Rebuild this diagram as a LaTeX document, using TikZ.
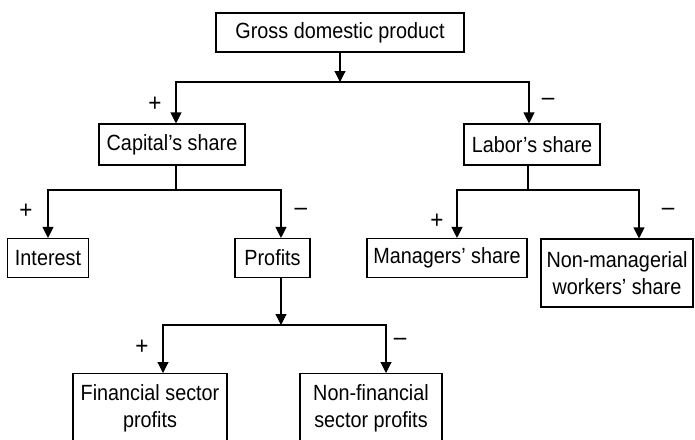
\documentclass[tikz,border=0pt]{standalone}
\usepackage{fontspec}
\setmainfont{Liberation Sans}[FakeStretch=0.9]
\usetikzlibrary{arrows.meta}
\usetikzlibrary{positioning}

\begin{document}
\begin{tikzpicture}[
  x=1pt, y=-1pt,
  line width=1.1pt,
  font=\fontsize{22}{27}\selectfont
]
\tikzset{
    sharebox/.style = {draw=black, rectangle, align=center, inner sep=0pt, minimum height=39pt},
    flow/.style = {-{Triangle[length=11pt,width=11pt]}},
    sign/.style = {draw=none, inner sep=0pt, font=\fontsize{25}{25}\selectfont}
}
\useasboundingbox (0,0) rectangle (695,439);

% boxes
\node[sharebox, minimum width=248pt] (gdp) at (340,32.5) {Gross domestic product};
\node[sharebox, minimum width=146pt, minimum height=41pt] (cap) at (172,144.5) {Capital’s share};
\node[sharebox, minimum width=136pt, minimum height=41pt] (lab) at (532,144.5) {Labor’s share};
\node[sharebox, minimum width=81pt] (int) at (48,258) {Interest};
\node[sharebox, minimum width=75pt] (prof) at (272.5,258) {Profits};
\node[sharebox, minimum width=160pt] (mgr) at (447,258) {Managers’ share};
\node[sharebox, minimum width=152pt, minimum height=68pt] (wrk) at (617,273) {Non-managerial\\workers’ share};
\node[sharebox, minimum width=154pt, minimum height=70pt, anchor=north] (fin) at (150,373) {Financial sector\\profits};
\node[sharebox, minimum width=142pt, minimum height=70pt, anchor=north] (nonfin) at (371,373) {Non-financial\\sector profits};

% split points
\coordinate (gdpbar) at (340,82);
\coordinate (capbar) at (176,190);
\coordinate (labbar) at (528,190);
\coordinate (profbar) at (281,325);

% connectors
\draw[flow] (gdp) -- (gdpbar);
\draw[flow] (gdpbar) -| ([xshift=4pt]cap.north);
\draw[flow] (gdpbar) -| ([xshift=-3pt]lab.north);
\draw ([xshift=4pt]cap.south) -- (capbar);
\draw[flow] (capbar) -| (int.north);
\draw[flow] (capbar) -| ([xshift=8.5pt]prof.north);
\draw (labbar |- lab.south) -- (labbar);
\draw[flow] (labbar) -| ([xshift=10pt]mgr.north);
\draw[flow] (labbar) -| ([xshift=22pt]wrk.north);
\draw[flow] ([xshift=8.5pt]prof.south) -- (profbar);
\draw[flow] (profbar) -| ([xshift=13pt]fin.north);
\draw[flow] (profbar) -| ([xshift=15pt]nonfin.north);

% signs
\node[sign] (s1) at (155,104) {+};
\node[sign] (s2) at (548,102) {–};
\node[sign] (s3) at (26,211) {+};
\node[sign] (s4) at (301,212) {–};
\node[sign] (s5) at (437,221) {+};
\node[sign] (s6) at (668,212) {–};
\node[sign] (s7) at (142,347) {+};
\node[sign] (s8) at (400,342) {–};
\end{tikzpicture}
\end{document}
